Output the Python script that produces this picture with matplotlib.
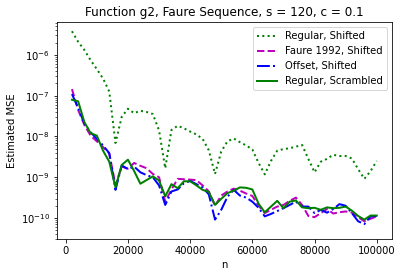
import matplotlib
matplotlib.use("Agg")
import matplotlib.pyplot as plt
import numpy as np

# sample sizes
n = np.arange(2000, 100001, 2000)

# log10 of the estimated MSE
reg_shifted = [-5.42, -5.68, -5.88, -6.13, -6.35, -6.58, -6.90, -8.16, -7.52, -7.32,
               -7.43, -7.37, -7.40, -7.45, -7.85, -8.78, -7.84, -7.74, -7.80, -7.88,
               -7.95, -8.06, -8.34, -8.92, -8.37, -8.12, -8.05, -8.14, -8.22, -8.32,
               -8.65, -8.93, -8.60, -8.35, -8.31, -8.29, -8.25, -8.21, -8.55, -8.88,
               -8.62, -8.55, -8.45, -8.48, -8.48, -8.54, -8.80, -9.04, -8.85, -8.60]
faure_shifted = [-6.84, -7.35, -7.72, -7.98, -8.12, -8.26, -8.42, -9.19, -8.74, -8.79,
                 -8.65, -8.72, -8.78, -8.92, -9.00, -9.60, -9.30, -9.04, -9.05, -9.06,
                 -9.07, -9.20, -9.35, -9.70, -9.45, -9.35, -9.28, -9.33, -9.40, -9.46,
                 -9.70, -9.88, -9.80, -9.72, -9.68, -9.58, -9.50, -9.68, -9.95, -9.98,
                 -9.88, -9.78, -9.89, -9.86, -9.84, -9.87, -9.98, -10.08, -10.02, -9.96]
offset_shifted = [-6.96, -7.30, -7.68, -7.90, -8.06, -8.22, -8.41, -9.31, -8.71, -8.80,
                  -8.74, -8.88, -8.95, -9.00, -9.20, -9.68, -9.35, -9.30, -9.15, -9.09,
                  -9.17, -9.25, -9.42, -10.04, -9.80, -9.48, -9.31, -9.45, -9.50, -9.60,
                  -9.75, -9.96, -9.90, -9.83, -9.76, -9.68, -9.60, -9.72, -9.72, -9.88,
                  -9.80, -9.87, -9.78, -9.66, -9.70, -9.88, -10.08, -10.15, -9.96, -9.95]
reg_scrambled = [-7.10, -7.14, -7.65, -7.92, -7.98, -8.35, -8.62, -9.25, -8.70, -8.57,
                 -8.85, -9.16, -9.07, -8.98, -9.08, -9.47, -9.17, -9.27, -9.10, -9.10,
                 -9.20, -9.31, -9.36, -9.68, -9.53, -9.39, -9.33, -9.25, -9.26, -9.30,
                 -9.65, -9.86, -9.72, -9.58, -9.76, -9.60, -9.57, -9.74, -9.76, -9.75,
                 -9.80, -9.74, -9.76, -9.75, -9.72, -9.82, -9.95, -10.04, -9.94, -9.94]

fig = plt.figure(figsize=(403 / 72, 278 / 72), dpi=72)
ax = fig.add_axes([0.1407, 0.1392, 0.832, 0.7806])

ax.plot(n, 10.0 ** np.array(reg_shifted), "g:", linewidth=2, label="Regular, Shifted")
ax.plot(n, 10.0 ** np.array(faure_shifted), "m--", linewidth=2, label="Faure 1992, Shifted")
ax.plot(n, 10.0 ** np.array(offset_shifted), "b-.", linewidth=2, label="Offset, Shifted")
ax.plot(n, 10.0 ** np.array(reg_scrambled), "g-", linewidth=2, label="Regular, Scrambled")

ax.set_yscale("log")
ax.set_ylim(3.0e-11, 6.3e-6)
ax.set_title("Function g2, Faure Sequence, s = 120, c = 0.1")
ax.set_xlabel("n")
ax.set_ylabel("Estimated MSE")
ax.legend(loc="upper right")

fig.savefig("out.png", dpi=72)
